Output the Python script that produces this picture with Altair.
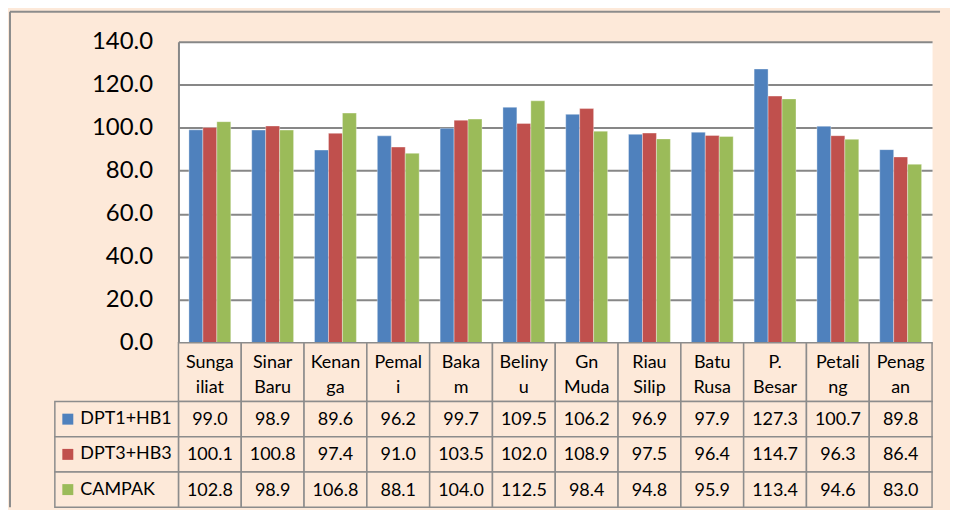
import altair as alt
import pandas as pd

categories = ["Sungailiat", "Sinar Baru", "Kenanga", "Pemali", "Bakam", "Belinyu",
              "Gn Muda", "Riau Silip", "Batu Rusa", "P. Besar", "Petaling", "Penagan"]
category_labels = ["Sunga\niliat", "Sinar\nBaru", "Kenan\nga", "Pemal\ni", "Baka\nm", "Beliny\nu",
                   "Gn\nMuda", "Riau\nSilip", "Batu\nRusa", "P.\nBesar", "Petali\nng", "Penag\nan"]
series = ["DPT1+HB1", "DPT3+HB3", "CAMPAK"]
dpt1_hb1 = [99.0, 98.9, 89.6, 96.2, 99.7, 109.5, 106.2, 96.9, 97.9, 127.3, 100.7, 89.8]
dpt3_hb3 = [100.1, 100.8, 97.4, 91.0, 103.5, 102.0, 108.9, 97.5, 96.4, 114.7, 96.3, 86.4]
campak = [102.8, 98.9, 106.8, 88.1, 104.0, 112.5, 98.4, 94.8, 95.9, 113.4, 94.6, 83.0]
colors = ["#4F81BD", "#C0504D", "#9BBB59"]
y_ticks = [0, 20, 40, 60, 80, 100, 120, 140]

BG = "#FDE9D9"
GRID = "#878787"
LINE = "#8C8C8C"
FONT = "Lato"

rows = []
for s, vals in zip(series, [dpt1_hb1, dpt3_hb3, campak]):
    for c, v in zip(categories, vals):
        rows.append({"category": c, "series": s, "value": v, "text": f"{v:.1f}"})
df = pd.DataFrame(rows)
cat_df = pd.DataFrame({"category": categories, "label": category_labels})
ser_df = pd.DataFrame({"series": series})
frame_df = pd.DataFrame({"frame": ["border"]})

color = alt.Color("series:N", sort=series, scale=alt.Scale(domain=series, range=colors), legend=None)

# ---- Panel A: bars
xA = alt.X("category:N", sort=categories,
           scale=alt.Scale(paddingInner=1/3, paddingOuter=1/6), axis=None)
bars = alt.Chart(df).mark_bar(stroke="#FFFFFF", strokeOpacity=0.35, strokeWidth=1).encode(
    x=xA,
    xOffset=alt.XOffset("series:N", sort=series),
    y=alt.Y("value:Q", scale=alt.Scale(domain=[0, 140], nice=False),
            axis=alt.Axis(values=y_ticks, format=".1f", title=None, labelFont=FONT,
                          labelFontSize=24, labelColor="black", labelPadding=26,
                          ticks=False, tickSize=0, domainColor=GRID, domainWidth=2,
                          gridColor=GRID, gridWidth=2)),
    color=color,
)
# outer chart-area frame (top and left edges)
frame_top = alt.Chart(frame_df).mark_rule(color=LINE, strokeWidth=2).encode(
    x=alt.value(-169), x2=alt.value(764), y=alt.value(-30))
frame_left = alt.Chart(frame_df).mark_rule(color=LINE, strokeWidth=2).encode(
    x=alt.value(-169), y=alt.value(-30), y2=alt.value(467))
panel_a = alt.layer(bars, frame_top, frame_left).properties(
    width=756, height=302, view=alt.ViewBackground(fill="white", stroke="transparent"))

# ---- Panel B: category label row
xT = alt.X("category:N", sort=categories,
           scale=alt.Scale(paddingInner=0, paddingOuter=0), axis=None)
cells_b = alt.Chart(cat_df).mark_rect(fill=BG, stroke=LINE, strokeWidth=1.5).encode(x=xT)
text_b = alt.Chart(cat_df).mark_text(font=FONT, fontSize=18, lineBreak="\n", lineHeight=25,
                                     baseline="alphabetic", dy=-4,
                                     color="black").encode(x=xT, text="label:N")
panel_b = alt.layer(cells_b, text_b).properties(width=756, height=59)

# ---- Panel C: data table
yT = alt.Y("series:N", sort=series, scale=alt.Scale(paddingInner=0, paddingOuter=0),
           axis=alt.Axis(title=None, labelAlign="left", labelPadding=99, ticks=False, tickSize=0,
                         domain=False, grid=False, labelFont=FONT, labelFontSize=18,
                         labelColor="black"))
cells_c = alt.Chart(df).mark_rect(fill=BG, stroke=LINE, strokeWidth=1.5).encode(x=xT, y=yT)
text_c = alt.Chart(df).mark_text(font=FONT, fontSize=18, color="black", dy=1).encode(
    x=xT, y=yT, text="text:N")
leg_cells = alt.Chart(ser_df).mark_rect(fill=BG, stroke=LINE, strokeWidth=1.5).encode(
    x=alt.value(-124), x2=alt.value(0), y=yT)
leg_marks = alt.Chart(ser_df).mark_point(shape="square", filled=True, size=121, opacity=1).encode(
    x=alt.value(-111), y=yT, color=color)
panel_c = alt.layer(cells_c, text_c, leg_cells, leg_marks).properties(width=756, height=106)

chart = alt.vconcat(panel_a, panel_b, panel_c, spacing=0, bounds="flush").properties(
    background=BG,
    padding={"left": 0, "top": 1, "right": 8, "bottom": 0},
).configure_view(stroke="transparent")

chart.save("out.html", embed_options={"renderer": "svg", "actions": False})
